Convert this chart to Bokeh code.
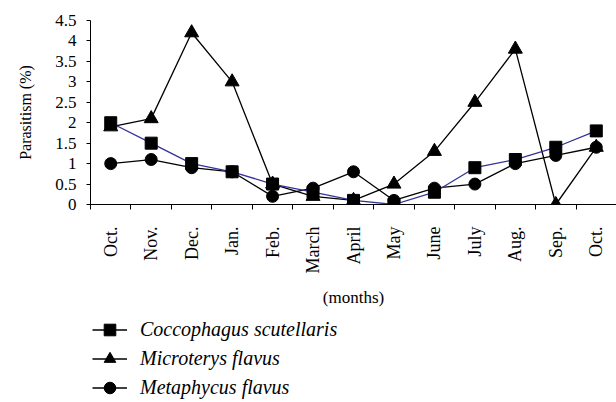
import math
from bokeh.plotting import figure
from bokeh.layouts import column
from bokeh.models import FixedTicker, Range1d, Legend, LegendItem, ColumnDataSource
from bokeh.embed import file_html
from bokeh.resources import INLINE

months = ["Oct.", "Nov.", "Dec.", "Jan.", "Feb.", "March", "April", "May", "June", "July", "Aug.", "Sep.", "Oct."]
coccophagus = [2.0, 1.5, 1.0, 0.8, 0.5, 0.3, 0.1, 0.0, 0.3, 0.9, 1.1, 1.4, 1.8]
microterys = [1.9, 2.1, 4.2, 3.0, 0.5, 0.2, 0.1, 0.5, 1.3, 2.5, 3.8, 0.0, 1.4]
metaphycus = [1.0, 1.1, 0.9, 0.8, 0.2, 0.4, 0.8, 0.1, 0.4, 0.5, 1.0, 1.2, 1.4]
series_names = ["Coccophagus scutellaris", "Microterys flavus", "Metaphycus flavus"]
y_ticks = [0, 0.5, 1, 1.5, 2, 2.5, 3, 3.5, 4, 4.5]
y_labels = ["0", "0.5", "1", "1.5", "2", "2.5", "3", "3.5", "4", "4.5"]

FONT = "Liberation Serif"
navy = "#333399"

xs = [i + 0.5 for i in range(len(months))]
src = ColumnDataSource(dict(x=xs, c=coccophagus, m=microterys, f=metaphycus))

p = figure(width=616, height=317, output_backend="svg", toolbar_location=None,
           x_range=Range1d(0, len(months)), y_range=Range1d(0, 4.5),
           min_border_left=90, min_border_right=0, min_border_top=20, min_border_bottom=113)
p.outline_line_color = None
p.grid.visible = False

xa = p.xaxis[0]
xa.ticker = FixedTicker(ticks=xs, minor_ticks=list(range(len(months) + 1)))
xa.major_label_overrides = {x: m for x, m in zip(xs, months)}
xa.major_label_orientation = math.pi / 2
xa.major_tick_out = 0
xa.major_tick_in = 0
xa.minor_tick_out = 5
xa.minor_tick_in = 0
xa.minor_tick_line_color = "black"
xa.axis_line_color = "black"
xa.major_label_standoff = 17
xa.major_label_text_font = FONT
xa.major_label_text_font_size = "18px"
xa.major_label_text_color = "black"
xa.axis_label = "(months)"
xa.axis_label_text_font = FONT
xa.axis_label_text_font_style = "normal"
xa.axis_label_text_font_size = "17px"
xa.axis_label_text_color = "black"
xa.axis_label_standoff = 12

ya = p.yaxis[0]
ya.ticker = FixedTicker(ticks=y_ticks, minor_ticks=[])
ya.major_label_overrides = {t: l for t, l in zip(y_ticks, y_labels)}
ya.major_tick_out = 4
ya.major_tick_in = 0
ya.minor_tick_line_color = None
ya.axis_line_color = "black"
ya.major_label_standoff = 10
ya.major_label_text_font = FONT
ya.major_label_text_font_size = "17px"
ya.major_label_text_color = "black"
ya.axis_label = "Parasitism (%)"
ya.axis_label_text_font = FONT
ya.axis_label_text_font_style = "normal"
ya.axis_label_text_font_size = "16px"
ya.axis_label_text_color = "black"
ya.axis_label_standoff = 18

p.line("x", "m", source=src, line_color="black", line_width=1.3)
p.line("x", "f", source=src, line_color="black", line_width=1.3)
p.line("x", "c", source=src, line_color=navy, line_width=1.3)
p.scatter("x", "f", source=src, marker="circle", size=12, fill_color="black", line_color="black")
p.scatter("x", "m", source=src, marker="triangle", size=14, fill_color="black", line_color="black")
p.scatter("x", "c", source=src, marker="square", size=12, fill_color="black", line_color="black")

# legend panel below the chart (its renderers use the same data, scrolled out of view)
q = figure(width=616, height=85, output_backend="svg", toolbar_location=None,
           x_axis_type=None, y_axis_type=None, x_range=Range1d(0, len(months)),
           y_range=Range1d(-20, -10), min_border=0)
q.outline_line_color = None
q.grid.visible = False
markers = ["square", "triangle", "circle"]
sizes = [11, 13, 12]
cols = ["c", "m", "f"]
items = []
for name, mk, sz, col in zip(series_names, markers, sizes, cols):
    lr = q.line("x", col, source=src, line_color="black", line_width=1.3)
    sr = q.scatter("x", col, source=src, marker=mk, size=sz, fill_color="black", line_color="black")
    items.append(LegendItem(label=name, renderers=[lr, sr]))

legend = Legend(items=items, location=(2, 0), orientation="vertical")
legend.border_line_color = None
legend.background_fill_alpha = 0
legend.padding = 0
legend.margin = 0
legend.spacing = 0
legend.glyph_width = 35
legend.glyph_height = 29
legend.label_height = 29
legend.label_standoff = 13
legend.label_text_font = FONT
legend.label_text_font_style = "italic"
legend.label_text_font_size = "20px"
legend.label_text_color = "black"
q.add_layout(legend, "center")

layout = column(p, q, spacing=0)
open("out.html", "w").write(file_html(layout, INLINE))
